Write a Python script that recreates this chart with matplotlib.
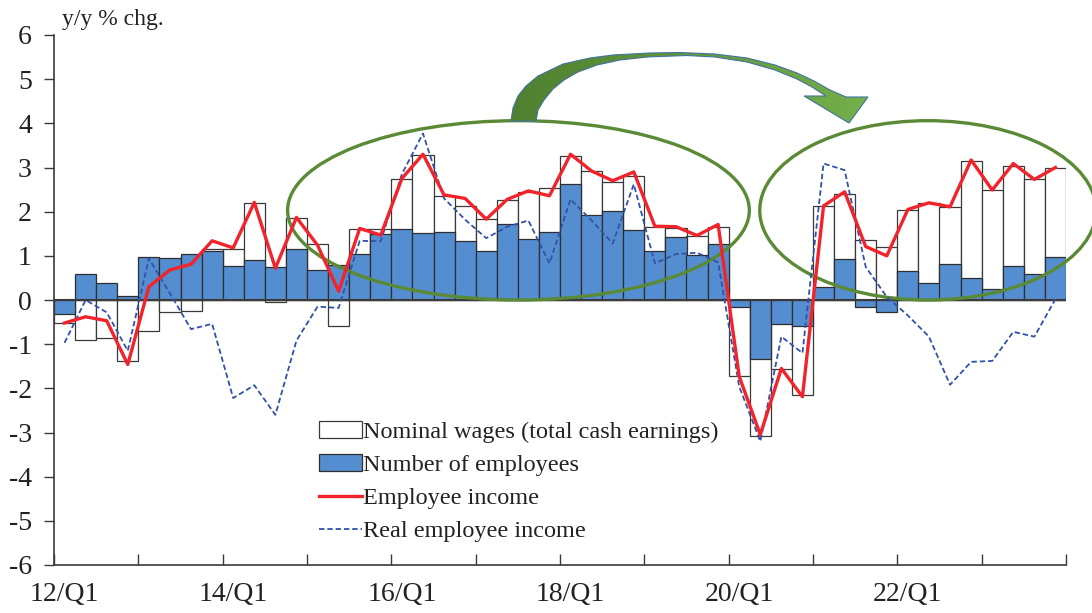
import numpy as np
import matplotlib.pyplot as plt
from matplotlib.patches import Ellipse, Polygon
from matplotlib.colors import LinearSegmentedColormap

plt.rcParams['font.family'] = ['Liberation Serif', 'DejaVu Serif']
plt.rcParams['axes.unicode_minus'] = False

# y/y % change, quarterly 12/Q1 .. 23/Q4
nominal_wages = [-0.51, -0.91, -0.85, -1.37, -0.70, -0.27, -0.24, 1.15, 1.15, 2.19, -0.04, 1.85,
                 1.26, -0.59, 1.61, 1.61, 2.75, 3.28, 2.36, 2.13, 1.83, 2.26, 2.44, 2.53,
                 3.26, 2.93, 2.68, 2.80, 1.66, 1.64, 1.46, 1.66, -1.73, -3.08, -1.57, -2.16,
                 2.13, 2.39, 1.36, 1.19, 2.04, 2.19, 2.10, 3.15, 2.49, 3.04, 2.73, 2.99]
employees = [-0.32, 0.58, 0.38, 0.08, 0.98, 0.96, 1.05, 1.11, 0.76, 0.90, 0.75, 1.15,
             0.67, 0.79, 1.05, 1.49, 1.61, 1.51, 1.55, 1.33, 1.12, 1.73, 1.38, 1.53,
             2.62, 1.92, 2.01, 1.58, 1.12, 1.42, 1.02, 1.26, -0.15, -1.34, -0.54, -0.58,
             0.30, 0.92, -0.15, -0.28, 0.65, 0.38, 0.81, 0.50, 0.24, 0.77, 0.60, 0.98]
employee_income = [-0.52, -0.38, -0.47, -1.46, 0.30, 0.68, 0.81, 1.34, 1.18, 2.21, 0.72, 1.87,
                   1.24, 0.20, 1.62, 1.47, 2.75, 3.30, 2.38, 2.30, 1.83, 2.28, 2.47, 2.36,
                   3.30, 2.92, 2.70, 2.90, 1.67, 1.66, 1.46, 1.71, -1.73, -3.05, -1.55, -2.19,
                   2.13, 2.45, 1.21, 1.00, 2.05, 2.20, 2.11, 3.17, 2.49, 3.09, 2.73, 3.00]
real_income = [-0.97, 0.00, -0.28, -1.15, 0.94, 0.15, -0.66, -0.54, -2.22, -1.93, -2.60, -0.92,
               -0.15, -0.18, 1.34, 1.33, 2.85, 3.77, 2.30, 1.82, 1.40, 1.66, 1.80, 0.83,
               2.28, 1.80, 1.28, 2.62, 0.83, 1.04, 1.07, 0.85, -1.96, -3.20, -0.83, -1.20,
               3.09, 2.94, 0.75, 0.07, -0.35, -0.83, -1.92, -1.40, -1.38, -0.72, -0.83, 0.02]
tick_labels = ['12/Q1', '14/Q1', '16/Q1', '18/Q1', '20/Q1', '22/Q1']

x = np.arange(len(nominal_wages))

fig = plt.figure(figsize=(10.92, 6.13), dpi=100)
ax = fig.add_axes([54/1092, 1-565/613, (1066-54)/1092, 530/613])

b1 = ax.bar(x, nominal_wages, width=1.0, color='white', edgecolor='#3a3a3a', linewidth=0.9, zorder=2,
            label='Nominal wages (total cash earnings)')
b2 = ax.bar(x, employees, width=1.0, color='#558ED0', edgecolor='#2e2e2e', linewidth=0.9, zorder=2.2,
            label='Number of employees')
ax.axhline(0, color='#3a3a3a', lw=1.5, zorder=2.5)

# green ellipses highlighting the two periods
for cx, w in [(21.53, 21.9), (40.95, 15.95)]:
    ax.add_patch(Ellipse((cx, 2.03), w, 4.06, fill=False, edgecolor='#5A8A36', lw=2.4,
                         zorder=3, clip_on=False))

l1, = ax.plot(x, employee_income, color='#F2232A', lw=2.4, zorder=4, label='Employee income')
l2, = ax.plot(x, real_income, color='#3252A8', lw=1.3, ls=(0, (3, 1.6)), zorder=3.8,
              label='Real employee income')

ax.set_xlim(-0.5, 47.5)
ax.set_ylim(-6, 6)
ax.set_yticks(range(-6, 7))
ax.set_xticks(np.arange(-0.5, 48, 4))
ax.set_xticklabels([])
ax.set_xticks(np.arange(0, 48, 8), minor=True)
ax.set_xticklabels(tick_labels, minor=True)
ax.tick_params(axis='x', which='major', direction='in', length=8, width=1, color='#3a3a3a')
ax.tick_params(axis='x', which='minor', length=0, pad=12, labelsize=20, labelcolor='#222222')
ax.tick_params(axis='y', direction='out', length=7, width=1, color='#3a3a3a', pad=9, labelsize=20,
               labelcolor='#222222')
for s in ['top', 'right']:
    ax.spines[s].set_visible(False)
for s in ['left', 'bottom']:
    ax.spines[s].set_color('#3a3a3a')
    ax.spines[s].set_linewidth(1.2)

fig.text(62/1092, 1-19/613, 'y/y % chg.', fontsize=17, va='center', ha='left', color='#222222')

leg = ax.legend(handles=[b1, b2, l1, l2], loc='upper left', bbox_to_anchor=(0.262, 0.272),
                frameon=False, fontsize=17.5, handlelength=1.75, handletextpad=0.05,
                labelspacing=0.46, borderpad=0, borderaxespad=0)
for t in leg.get_texts():
    t.set_color('#222222')

# curved arrow drawn in pixel coordinates on an overlay
ov = fig.add_axes([0, 0, 1, 1])
ov.axis('off')
outer = [(511, 121), (513, 108), (518, 96), (526, 86), (538, 76), (563, 64), (590, 58), (613, 55),
         (650, 53), (680, 52.5), (715, 54), (747, 58), (775, 65), (797, 73), (814, 81), (830, 90),
         (846, 97)]
head = [(868, 97), (849, 123), (804, 96)]
inner = [(826, 96), (812, 87), (797, 79), (775, 70), (747, 62), (715, 57), (687, 55.5), (647, 57),
         (620, 60), (597, 65), (578, 72), (564, 80), (553, 89), (544, 100), (538, 110), (536, 121)]
poly = Polygon(outer + head + inner, closed=True, facecolor='none', edgecolor='#4472A0', lw=0.8)
ov.add_patch(poly)
grad = np.linspace(0, 1, 256).reshape(1, -1)
cmap = LinearSegmentedColormap.from_list('g', ['#4F7F2F', '#74B04A'])
im = ov.imshow(grad, extent=[505, 870, 125, 50], cmap=cmap, aspect='auto', zorder=0.5)
im.set_clip_path(poly)
ov.set_xlim(0, 1092)
ov.set_ylim(613, 0)

fig.savefig('out.png', dpi=100)
